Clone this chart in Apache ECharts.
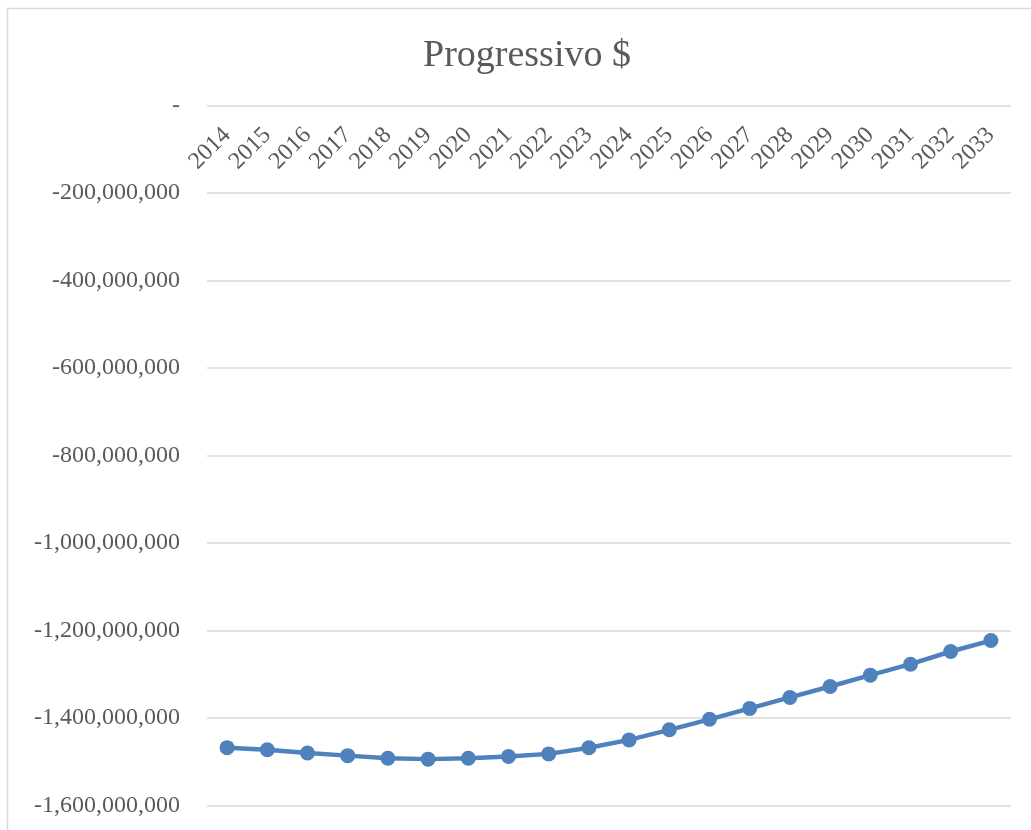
<!DOCTYPE html>
<html>
<head>
<meta charset="utf-8">
<script src="https://cdn.jsdelivr.net/npm/echarts@6/dist/echarts.min.js"></script>
<style>
  html, body { margin: 0; padding: 0; background: #ffffff; }
  #chart { width: 1031px; height: 830px; }
</style>
</head>
<body>
<div id="chart"></div>
<script>
// Cumulative balance per year
const years = ['2014','2015','2016','2017','2018','2019','2020','2021','2022','2023',
               '2024','2025','2026','2027','2028','2029','2030','2031','2032','2033'];
const progressivo = [
  -1467800000, -1472500000, -1480000000, -1486000000, -1492000000,
  -1494000000, -1492000000, -1488000000, -1482000000, -1468000000,
  -1450000000, -1427000000, -1403000000, -1378000000, -1353000000,
  -1328000000, -1302000000, -1277000000, -1248000000, -1223000000
];
const yTicks = { min: -1600000000, max: 0, step: 200000000 };

const FONT = '"Liberation Serif", "Times New Roman", serif';
const TEXT = '#595959';

function fmtAxis(v) {
  if (v === 0) return '-';
  const s = Math.abs(v).toString().replace(/\B(?=(\d{3})+(?!\d))/g, ',');
  return (v < 0 ? '-' : '') + s;
}

const chart = echarts.init(document.getElementById('chart'), null, { renderer: 'canvas' });
chart.setOption({
  animation: false,
  backgroundColor: '#ffffff',
  title: {
    text: 'Progressivo $',
    left: 418,
    top: 32,
    textStyle: { fontFamily: FONT, fontSize: 38, fontWeight: 'normal', color: TEXT }
  },
  graphic: [{
    type: 'rect',
    shape: { x: 7.5, y: 8.5, width: 1100, height: 900 },
    style: { fill: 'none', stroke: '#d9d9d9', lineWidth: 1.5 },
    silent: true
  }],
  grid: { left: 207, right: 20, top: 105.5, bottom: 24.5, containLabel: false },
  xAxis: {
    type: 'category',
    data: years,
    position: 'bottom',
    offset: -700,
    boundaryGap: true,
    axisLine: { show: false },
    axisTick: { show: false },
    axisLabel: {
      rotate: 45,
      margin: 26,
      interval: 0,
      fontFamily: FONT,
      fontSize: 24,
      color: TEXT
    }
  },
  yAxis: {
    type: 'value',
    min: yTicks.min,
    max: yTicks.max,
    interval: yTicks.step,
    axisLine: { show: false },
    axisTick: { show: false },
    splitLine: { lineStyle: { color: '#d9d9d9', width: 1.5 } },
    axisLabel: {
      margin: 27,
      fontFamily: FONT,
      fontSize: 24,
      color: TEXT,
      formatter: fmtAxis
    }
  },
  series: [{
    type: 'line',
    data: progressivo,
    symbol: 'circle',
    symbolSize: 15,
    lineStyle: { color: '#4f81bd', width: 4.5 },
    itemStyle: { color: '#4f81bd' }
  }]
});
</script>
</body>
</html>
